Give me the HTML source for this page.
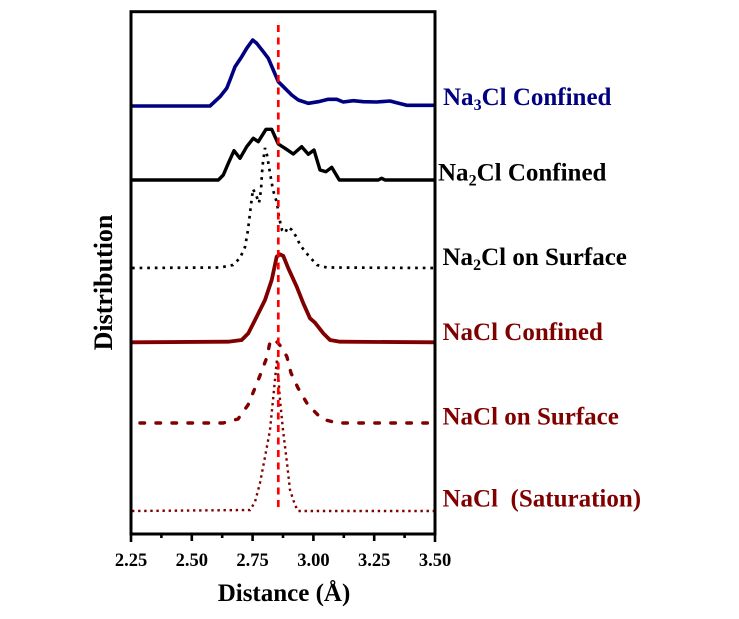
<!DOCTYPE html>
<html>
<head>
<meta charset="utf-8">
<style>
  html, body { margin: 0; padding: 0; background: #ffffff; }
  svg { display: block; }
  text { font-family: "Liberation Serif", "Times New Roman", serif; font-weight: bold; }
</style>
</head>
<body>
<svg width="739" height="619" viewBox="0 0 739 619" xmlns="http://www.w3.org/2000/svg">
  <rect x="0" y="0" width="739" height="619" fill="#ffffff"/>

  <!-- Na3Cl Confined (navy solid) -->
  <polyline fill="none" stroke="#000080" stroke-width="3.6" stroke-linejoin="round"
    points="132,106 210,106 220,96.7 226.7,88.3 230,80 235,66.7 241.7,56.7 246.7,48.3 252.7,40 256.7,43.3 263.3,51.7 268.3,58.3 273.3,70 278.3,81.7 285,88.3 291.7,95 298.3,100 308.3,103.3 318.3,101.7 328.3,99.3 336.7,99.3 343.3,102 353.3,100.7 363.3,101.7 376.7,102 390,101 396.7,102.7 406.7,105.3 435,105.3"/>

  <!-- Na2Cl Confined (black solid) -->
  <polyline fill="none" stroke="#000000" stroke-width="3.4" stroke-linejoin="round"
    points="132,180 218.3,180 223.3,175 228.3,163.3 234,150.7 240,158.3 246.7,146.7 253.3,138.3 258.3,141.7 266,129.3 271.7,129.3 278.3,144 285,148.3 293.3,154 301.7,146.7 308.3,154.3 314,150 320,170 326,171.7 331.7,167.3 339.3,180 378.3,180 381.7,178.3 385,180 435,180"/>

  <!-- Na2Cl on Surface (black dotted) -->
  <polyline fill="none" stroke="#000000" stroke-width="2.7" stroke-dasharray="2.7 4.9"
    points="132,268 220,267.5 233,265 240,258 245,247 248,230 250,213 252,197 253,189 256,195 259,203 261,190 262,173 263,162 265,148 267,155 270,173 273,190 277,203 279,217 282,230 285,233 288,227 292,230 297,238 300,245 308,255 317,265 327,267.5 435,268"/>

  <!-- NaCl Confined (dark red solid) -->
  <polyline fill="none" stroke="#800000" stroke-width="3.8" stroke-linejoin="round"
    points="132,342.3 228.3,341.7 241.7,340 248.3,333.3 256.7,316.7 265,300 271.7,280 276.7,256.7 280,254.3 283.3,256 288.3,268.3 296.7,286.7 303.3,303.3 310,318.3 315,322.7 323.3,333.3 330,340 340,341.7 435,342.3"/>

  <!-- NaCl on Surface (dark red dashed) -->
  <polyline fill="none" stroke="#800000" stroke-width="3.4" stroke-linecap="round" stroke-dasharray="4.5 11.5"
    points="140,423 223,423 238,419 248,405 255,388 261,373 267,357 270,342 274,339 278,343 283,349 287,357 291,373 298,388 308,405 322,419 337,423 435,423"/>

  <!-- NaCl (Saturation) (dark red dotted) -->
  <polyline fill="none" stroke="#800000" stroke-width="2.4" stroke-dasharray="2.4 3.7"
    points="132,511 250,510 255,502 260,483 265,457 270,430 273,400 277,359 280,400 283,430 287,463 290,490 295,505 298,511 435,511"/>

  <!-- Red dashed reference line -->
  <line x1="278.3" y1="25" x2="278.3" y2="512" stroke="#ff0000" stroke-width="2.7" stroke-dasharray="7 5.5"/>

  <!-- Axes frame -->
  <rect x="131" y="11.7" width="304" height="522.3" fill="none" stroke="#000000" stroke-width="3"/>

  <!-- X ticks -->
  <g stroke="#000000" stroke-width="2.6">
    <line x1="131" y1="534" x2="131" y2="542"/>
    <line x1="191.8" y1="534" x2="191.8" y2="541"/>
    <line x1="252.6" y1="534" x2="252.6" y2="541"/>
    <line x1="313.4" y1="534" x2="313.4" y2="541"/>
    <line x1="374.2" y1="534" x2="374.2" y2="541"/>
    <line x1="435" y1="534" x2="435" y2="542"/>
    <line x1="161.4" y1="534" x2="161.4" y2="538"/>
    <line x1="222.2" y1="534" x2="222.2" y2="538"/>
    <line x1="283" y1="534" x2="283" y2="538"/>
    <line x1="343.8" y1="534" x2="343.8" y2="538"/>
    <line x1="404.6" y1="534" x2="404.6" y2="538"/>
  </g>

  <!-- X tick labels -->
  <g font-size="18.5" fill="#000000" text-anchor="middle">
    <text x="131" y="566">2.25</text>
    <text x="191.8" y="566">2.50</text>
    <text x="252.6" y="566">2.75</text>
    <text x="313.4" y="566">3.00</text>
    <text x="374.2" y="566">3.25</text>
    <text x="435" y="566">3.50</text>
  </g>

  <!-- Axis titles -->
  <text x="284" y="601" font-size="25" text-anchor="middle" fill="#000000">Distance (Å)</text>
  <text transform="translate(112,282.5) rotate(-90)" font-size="26" text-anchor="middle" fill="#000000">Distribution</text>

  <!-- Series labels -->
  <text x="443" y="105" font-size="25" fill="#000080">Na<tspan font-size="16" dy="5">3</tspan><tspan dy="-5">Cl Confined</tspan></text>
  <text x="438" y="180.5" font-size="25" fill="#000000">Na<tspan font-size="16" dy="5">2</tspan><tspan dy="-5">Cl Confined</tspan></text>
  <text x="442.5" y="265" font-size="25" fill="#000000">Na<tspan font-size="16" dy="5">2</tspan><tspan dy="-5">Cl on Surface</tspan></text>
  <text x="442.5" y="340" font-size="25" fill="#800000">NaCl Confined</text>
  <text x="442.5" y="424.3" font-size="25" fill="#800000">NaCl on Surface</text>
  <text x="442.5" y="506.7" font-size="25" fill="#800000" xml:space="preserve">NaCl  (Saturation)</text>
</svg>
</body>
</html>
